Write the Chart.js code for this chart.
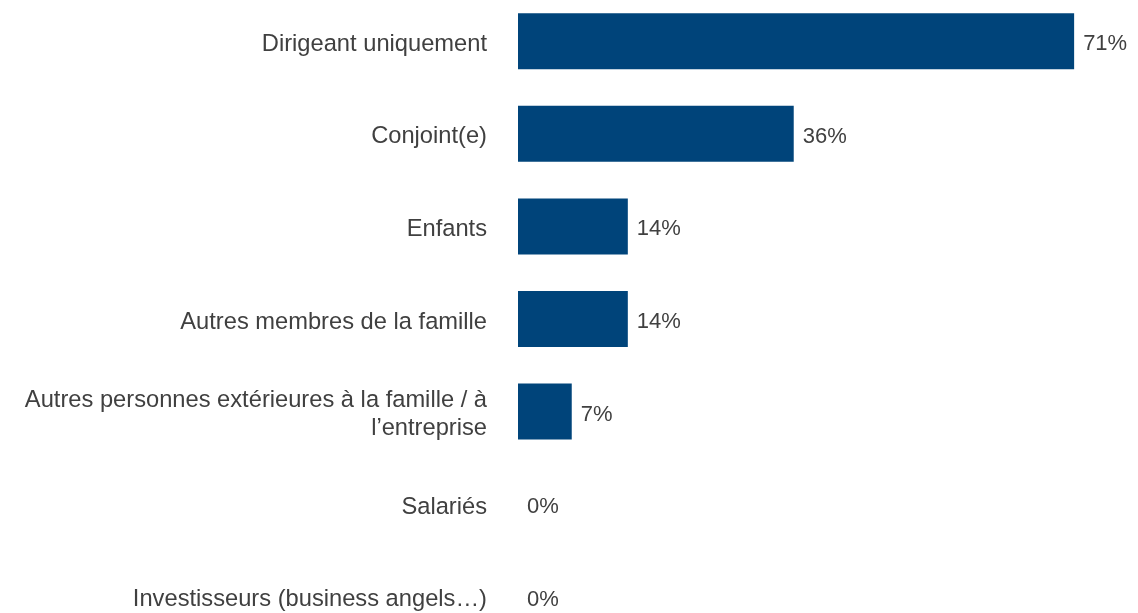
<!DOCTYPE html>
<html>
<head>
<meta charset="utf-8">
<script src="https://cdn.jsdelivr.net/npm/chart.js@4"></script>
<style>
  html, body { margin: 0; padding: 0; background: #ffffff; overflow: hidden; }
  #wrap { position: absolute; left: 0; top: -5px; width: 1138px; height: 648px; }
</style>
</head>
<body>
<div id="wrap"><canvas id="myChart"></canvas></div>
<script>
// categories
const categories = [
  "Dirigeant uniquement",
  "Conjoint(e)",
  "Enfants",
  "Autres membres de la famille",
  ["Autres personnes extérieures à la famille / à", "l’entreprise"],
  "Salariés",
  "Investisseurs (business angels…)"
];
// bar values (%)
const shares = [71.4, 35.4, 14.1, 14.1, 6.9, 0, 0];
// printed labels
const shareLabels = ["71%", "36%", "14%", "14%", "7%", "0%", "0%"];

const barColor = "#00447a";
const textColor = "#404040";
const fontFamily = "'Liberation Sans', Arial, sans-serif";

// draw value labels at the end of each bar
const valueLabels = {
  id: "valueLabels",
  afterDatasetsDraw: (chart) => {
    const ctx = chart.ctx;
    const meta = chart.getDatasetMeta(0);
    ctx.save();
    ctx.font = "22px " + fontFamily;
    ctx.fillStyle = textColor;
    ctx.textAlign = "left";
    ctx.textBaseline = "middle";
    meta.data.forEach((bar, i) => {
      ctx.fillText(shareLabels[i], bar.x + 9, bar.y + 3);
    });
    ctx.restore();
  }
};

const ctx = document.getElementById("myChart");
new Chart(ctx, {
  type: "bar",
  data: {
    labels: categories,
    datasets: [
      {
        data: shares,
        backgroundColor: barColor,
        borderWidth: 0,
        barPercentage: 0.605,
        categoryPercentage: 1.0
      }
    ]
  },
  options: {
    indexAxis: "y",
    responsive: true,
    maintainAspectRatio: false,
    animation: false,
    layout: { padding: 0 },
    plugins: {
      legend: { display: false },
      tooltip: { enabled: false }
    },
    scales: {
      x: {
        display: false,
        min: 0,
        max: 79.6
      },
      y: {
        afterFit: (scale) => {
          // fixed axis width, no extra room for label overhang
          scale.width = 518;
          scale.paddingTop = 0;
          scale.paddingBottom = 0;
        },
        border: { display: false },
        grid: { display: false, drawTicks: false },
        ticks: {
          padding: 31,
          labelOffset: 3,
          color: textColor,
          font: { family: fontFamily, size: 23.7, lineHeight: 1.19 }
        }
      }
    }
  },
  plugins: [valueLabels]
});
</script>
</body>
</html>
